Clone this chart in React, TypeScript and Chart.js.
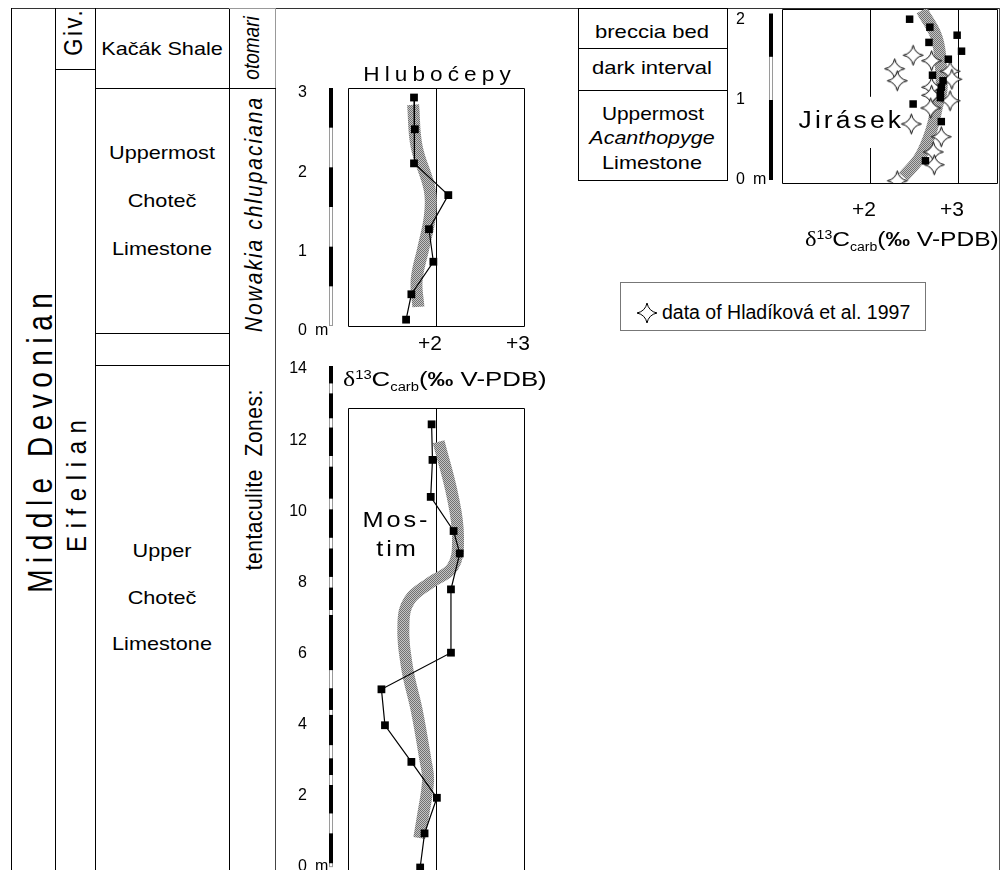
import React, { useEffect, useRef } from 'react';
import { Chart, registerables } from 'chart.js';
Chart.register(...registerables);

const FONT = '"Liberation Sans", Arial, Helvetica, sans-serif';
const SERIF = '"Liberation Serif", "Times New Roman", serif';

// ---------- Hlubočepy ----------
const hlubDepth = [2.88, 2.48, 2.05, 1.65, 1.22, 0.81, 0.40, 0.08];
const hlubD13C = [1.75, 1.76, 1.75, 2.14, 1.92, 1.97, 1.72, 1.66];
const hlubTrendDepth = [2.79, 2.26, 1.71, 1.38, 1.0, 0.58, 0.24];
const hlubTrendD13C = [1.74, 1.78, 1.93, 1.93, 1.86, 1.78, 1.80];
const hlubDepthTicks = [0, 1, 2, 3];
const hlubBarBlack = [[3, 2.5], [2, 1.5], [1, 0.5]];

// ---------- Mostim ----------
const mostDepth = [12.39, 11.39, 10.35, 9.39, 8.76, 7.75, 5.97, 4.94, 3.93, 2.9, 1.89, 0.89, -0.07];
const mostD13C = [1.95, 1.96, 1.94, 2.2, 2.27, 2.17, 2.17, 1.38, 1.42, 1.72, 2.01, 1.87, 1.82];
const mostTrendDepth = [11.9, 10.35, 9.22, 8.38, 7.93, 7.45, 6.8, 5.57, 4.36, 2.95, 2.39, 1.35, 0.76];
const mostTrendD13C = [2.03, 2.19, 2.25, 2.19, 1.93, 1.7, 1.63, 1.67, 1.78, 1.88, 1.91, 1.85, 1.81];
const mostDepthTicks = [0, 2, 4, 6, 8, 10, 12, 14];
const mostBarBlack = [[14.03, 13.54], [13.26, 12.56], [12.3, 11.5], [11.2, 10.3], [10.0, 9.2], [8.9, 8.1], [7.8, 7.17], [7.03, 5.48], [4.97, 4.36], [4.22, 3.37], [3.0, 2.53], [2.25, 1.45], [0.89, 0.05]];

// ---------- Jirásek ----------
const jirSquareD13C = [2.45, 2.68, 2.99, 2.67, 3.04, 2.89, 2.71, 2.83, 2.81, 2.8, 2.8, 2.49, 2.81, 2.63];
const jirSquareDepth = [2.01, 1.91, 1.81, 1.72, 1.61, 1.51, 1.31, 1.24, 1.16, 1.09, 1.03, 0.95, 0.73, 0.24];
const jirStarD13C = [2.49, 2.7, 2.28, 2.31, 2.91, 2.93, 2.7, 2.7, 2.91, 2.69, 2.47, 2.81, 2.72, 2.73, 2.31];
const jirStarDepth = [1.56, 1.49, 1.39, 1.24, 1.36, 1.26, 1.16, 1.06, 0.99, 0.9, 0.7, 0.54, 0.35, 0.19, -0.01];
const jirTrendD13C = [2.59, 2.76, 2.81, 2.81, 2.77, 2.7, 2.57, 2.38];
const jirTrendDepth = [2.12, 1.77, 1.35, 1.1, 0.96, 0.63, 0.29, 0.04];
const jirDepthTicks = [0, 1, 2];
const jirBarBlack = [[2.08, 1.54], [1.0, 0]];

const d13cTicks = [2, 3];

function pts(xs: number[], ys: number[]) {
  return xs.map((v, i) => ({ x: v, y: ys[i] }));
}

function makePattern(): CanvasPattern | string {
  const c = document.createElement('canvas');
  c.width = 2; c.height = 2;
  const g = c.getContext('2d');
  if (!g) return '#999';
  g.fillStyle = '#c4c4c4'; g.fillRect(0, 0, 2, 2);
  g.fillStyle = '#727272'; g.fillRect(0, 0, 1, 1); g.fillRect(1, 1, 1, 1);
  return g.createPattern(c, 'repeat') || '#999';
}

function makeStar(): HTMLCanvasElement {
  const c = document.createElement('canvas');
  c.width = 23; c.height = 23;
  const g = c.getContext('2d')!;
  const m = 11.5, R = 10, k = 1.7;
  g.beginPath();
  g.moveTo(m, m - R);
  g.quadraticCurveTo(m + k, m - k, m + R, m);
  g.quadraticCurveTo(m + k, m + k, m, m + R);
  g.quadraticCurveTo(m - k, m + k, m - R, m);
  g.quadraticCurveTo(m - k, m - k, m, m - R);
  g.closePath();
  g.fillStyle = '#fff'; g.fill();
  g.strokeStyle = '#000'; g.lineWidth = 1; g.stroke();
  return c;
}

const TICK_FONT = 16;

const decoPlugin = {
  id: 'deco',
  beforeDatasetsDraw(chart: any, _a: any, o: any) {
    const { ctx, chartArea: ca, scales } = chart;
    const x = scales.x, y = scales.y;
    ctx.save();
    const top = o.boxTop != null ? Math.round(y.getPixelForValue(o.boxTop)) + 0.5 : ca.top + 0.5;
    const L = ca.left + 0.5, R = ca.right + 0.5, B = o.openBottom ? ca.bottom + 2 : ca.bottom + 0.5;
    ctx.strokeStyle = '#000';
    ctx.lineWidth = 1;
    ctx.beginPath();
    ctx.moveTo(L, B); ctx.lineTo(L, top); ctx.lineTo(R, top); ctx.lineTo(R, B);
    if (!o.openBottom) ctx.lineTo(L, B);
    ctx.stroke();
    for (const v of o.vlines) {
      const px = Math.round(x.getPixelForValue(v)) + 0.5;
      ctx.beginPath(); ctx.moveTo(px, top); ctx.lineTo(px, B); ctx.stroke();
    }
    // thickness scale bar
    const bx = ca.left - o.barGap;
    const yT = y.getPixelForValue(o.barRange[0]);
    const yB = y.getPixelForValue(o.barRange[1]);
    ctx.fillStyle = '#fff';
    ctx.fillRect(bx - 2, yT, 4, yB - yT);
    ctx.strokeStyle = '#9a9a9a';
    ctx.strokeRect(bx - 1.5, yT + 0.5, 3, yB - yT - 1);
    ctx.fillStyle = '#000';
    for (const [a, b] of o.barBlack) {
      const ya = y.getPixelForValue(a), yb = y.getPixelForValue(b);
      ctx.fillRect(bx - 2, ya, 4, yb - ya);
    }
    if (o.label) {
      const lb = o.label;
      const x0 = x.getPixelForValue(lb.bg[0]), x1 = x.getPixelForValue(lb.bg[1]);
      const y0 = y.getPixelForValue(lb.bg[2]), y1 = y.getPixelForValue(lb.bg[3]);
      ctx.fillStyle = '#fff';
      ctx.fillRect(x0, y0, x1 - x0, y1 - y0);
      ctx.save();
      ctx.translate(x.getPixelForValue(lb.x), y.getPixelForValue(lb.y));
      ctx.scale(1.15, 1);
      ctx.font = `${lb.size}px ${FONT}`;
      (ctx as any).letterSpacing = `${lb.ls}px`;
      ctx.textAlign = 'center';
      ctx.textBaseline = 'middle';
      ctx.fillStyle = '#000';
      ctx.fillText(lb.text, lb.ls / 2, 0);
      ctx.restore();
    }
    ctx.restore();
  },
  afterDraw(chart: any, _a: any, o: any) {
    const { ctx, chartArea: ca, scales } = chart;
    const y = scales.y;
    ctx.save();
    ctx.font = `${TICK_FONT}px ${FONT}`;
    ctx.fillStyle = '#000';
    ctx.textAlign = 'left';
    ctx.textBaseline = 'middle';
    ctx.fillText('m', ca.left - o.yPad + 8, y.getPixelForValue(0) + o.yLabelOffset);
    ctx.restore();
  },
};

type Cfg = {
  left: number; top: number; width: number; height: number;
  pad: { left: number; top: number; right: number; bottom: number };
  xMin: number; xMax: number; yMin: number; yMax: number;
  yW: number; yPad: number; yLabelOffset: number; yTicks: number[];
  showX: boolean; xH: number; xPad: number;
  datasets: (pat: any, star: any) => any[];
  deco: any;
};

const CFGS: Cfg[] = [
  {
    left: 290, top: 60, width: 250, height: 300,
    pad: { left: 0, top: 28, right: 16, bottom: 0 },
    xMin: 1, xMax: 3, yMin: 0, yMax: 3,
    yW: 58, yPad: 41, yLabelOffset: 5, yTicks: hlubDepthTicks,
    showX: true, xH: 34, xPad: 6,
    datasets: (pat) => [
      { data: pts(hlubD13C, hlubDepth), showLine: true, borderColor: '#000', borderWidth: 1.2, pointStyle: 'rect', pointRadius: 5.5, pointBackgroundColor: '#000', pointBorderWidth: 0, tension: 0 },
      { data: pts(hlubTrendD13C, hlubTrendDepth), showLine: true, borderColor: pat, borderWidth: 12, pointRadius: 0, tension: 0.4, borderCapStyle: 'butt' },
    ],
    deco: { boxTop: null, openBottom: false, vlines: [2], barGap: 17, barRange: [3, 0], barBlack: hlubBarBlack },
  },
  {
    left: 290, top: 340, width: 250, height: 530,
    pad: { left: 0, top: 26, right: 16, bottom: 0 },
    xMin: 1, xMax: 3, yMin: -0.14, yMax: 14.03,
    yW: 58, yPad: 41, yLabelOffset: 2, yTicks: mostDepthTicks,
    showX: false, xH: 0, xPad: 0,
    datasets: (pat) => [
      { data: pts(mostD13C, mostDepth), showLine: true, borderColor: '#000', borderWidth: 1.2, pointStyle: 'rect', pointRadius: 5.5, pointBackgroundColor: '#000', pointBorderWidth: 0, tension: 0 },
      { data: pts(mostTrendD13C, mostTrendDepth), showLine: true, borderColor: pat, borderWidth: 12, pointRadius: 0, tension: 0.4, borderCapStyle: 'butt' },
    ],
    deco: { boxTop: 12.85, openBottom: true, vlines: [2], barGap: 17, barRange: [14.03, -0.06], barBlack: mostBarBlack },
  },
  {
    left: 720, top: 0, width: 287, height: 230,
    pad: { left: 0, top: 9, right: 10, bottom: 0 },
    xMin: 1, xMax: 3.443, yMin: -0.0375, yMax: 2.1375,
    yW: 62, yPad: 37, yLabelOffset: 0, yTicks: jirDepthTicks,
    showX: true, xH: 47, xPad: 15,
    datasets: (pat, star) => [
      { data: pts(jirSquareD13C, jirSquareDepth), showLine: false, pointStyle: 'rect', pointRadius: 5.3, pointBackgroundColor: '#000', pointBorderWidth: 0 },
      { data: pts(jirStarD13C, jirStarDepth), showLine: false, pointStyle: star, pointRadius: 10 },
      { data: pts(jirTrendD13C, jirTrendDepth), showLine: true, borderColor: pat, borderWidth: 12, pointRadius: 0, tension: 0.4, borderCapStyle: 'butt' },
    ],
    deco: {
      boxTop: null, openBottom: false, vlines: [2, 3], barGap: 11, barRange: [2.08, 0], barBlack: jirBarBlack,
      label: { text: 'Jirásek', x: 1.77, y: 0.73, size: 23, ls: 2.7, bg: [1.12, 2.37, 1.04, 0.4] },
    },
  },
];

function ChartBox({ cfg }: { cfg: Cfg }) {
  const ref = useRef<HTMLCanvasElement | null>(null);
  useEffect(() => {
    if (!ref.current) return;
    const pat = makePattern();
    const star = makeStar();
    const c = cfg;
    const chart = new Chart(ref.current, {
      type: 'scatter',
      data: { datasets: c.datasets(pat, star) },
      options: {
        animation: false,
        responsive: false,
        maintainAspectRatio: false,
        events: [],
        layout: { padding: c.pad, autoPadding: false },
        plugins: { legend: { display: false }, tooltip: { enabled: false }, deco: { ...c.deco, yPad: c.yPad, yLabelOffset: c.yLabelOffset } } as any,
        scales: {
          x: {
            type: 'linear', min: c.xMin, max: c.xMax, display: c.showX,
            grid: { display: false, drawTicks: false }, border: { display: false },
            ticks: { font: { family: FONT, size: 21 }, color: '#000', padding: c.xPad, labelOffset: -6, maxRotation: 0, autoSkip: false, callback: (v: any) => '+' + v },
            afterBuildTicks: (s: any) => { s.ticks = d13cTicks.map((v) => ({ value: v })); },
            afterFit: (s: any) => { s.height = c.xH; s.paddingLeft = 0; s.paddingRight = 0; },
          },
          y: {
            type: 'linear', min: c.yMin, max: c.yMax,
            grid: { display: false, drawTicks: false }, border: { display: false },
            ticks: { font: { family: FONT, size: TICK_FONT }, color: '#000', padding: c.yPad, labelOffset: c.yLabelOffset, autoSkip: false, callback: (v: any) => String(v) },
            afterBuildTicks: (s: any) => { s.ticks = c.yTicks.map((v) => ({ value: v })); },
            afterFit: (s: any) => { s.width = c.yW; s.paddingTop = 0; s.paddingBottom = 0; },
          },
        },
      } as any,
      plugins: [decoPlugin as any],
    });
    return () => chart.destroy();
  }, [cfg]);
  return (
    <canvas ref={ref} width={cfg.width} height={cfg.height}
      style={{ position: 'absolute', left: cfg.left, top: cfg.top, width: cfg.width, height: cfg.height }} />
  );
}

type TP = { x: number; y: number; size: number; children: React.ReactNode; italic?: boolean; rot?: boolean; ls?: number; sx?: number };
function Txt({ x, y, size, children, italic, rot, ls = 0, sx = 1 }: TP) {
  return (
    <div style={{
      position: 'absolute', left: x, top: y, whiteSpace: 'pre',
      fontFamily: FONT, fontSize: size, lineHeight: 1, fontStyle: italic ? 'italic' : 'normal',
      letterSpacing: ls, paddingLeft: ls, color: '#000',
      transform: `translate(-50%, -50%) scaleX(${sx})${rot ? ' rotate(-90deg)' : ''}`,
    }}>{children}</div>
  );
}

function Ln({ x, y, w, h, c = '#000' }: { x: number; y: number; w: number; h: number; c?: string }) {
  return <div style={{ position: 'absolute', left: x, top: y, width: w, height: h, background: c }} />;
}

function AxisTitle({ x, y, sx }: { x: number; y: number; sx: number }) {
  return (
    <div style={{
      position: 'absolute', left: x, top: y, whiteSpace: 'nowrap', fontFamily: FONT, fontSize: 21,
      lineHeight: 1, transformOrigin: 'left center', transform: `translate(0, -50%) scaleX(${sx})`, color: '#000',
    }}>
      <span style={{ fontFamily: SERIF }}>δ</span>
      <span style={{ fontSize: 12, position: 'relative', top: -7 }}>13</span>
      C
      <span style={{ fontSize: 12, position: 'relative', top: 5 }}>carb</span>
      (<b>‰</b> V-PDB)
    </div>
  );
}

function LegendStar() {
  return (
    <svg width={22} height={22} style={{ position: 'absolute', left: 636, top: 302 }}>
      <path d="M11 1 Q12.7 9.3 21 11 Q12.7 12.7 11 21 Q9.3 12.7 1 11 Q9.3 9.3 11 1 Z" fill="#fff" stroke="#000" strokeWidth={1} />
    </svg>
  );
}

export default function App() {
  return (
    <div style={{ position: 'absolute', left: 0, top: 0, width: 1007, height: 870, background: '#fff', overflow: 'hidden' }}>
      {/* frame */}
      <Ln x={11} y={8} w={988} h={1} c="#333" />
      <Ln x={999} y={8} w={1} h={862} c="#555" />
      {/* stratigraphic columns */}
      <Ln x={11} y={8} w={1} h={862} />
      <Ln x={55} y={8} w={1} h={862} />
      <Ln x={95} y={8} w={1} h={862} />
      <Ln x={229} y={8} w={1} h={862} />
      <Ln x={275} y={8} w={1} h={80} c="#999" />
      <Ln x={275} y={88} w={1} h={782} c="#444" />
      <Ln x={229} y={8} w={47} h={1} c="#999" />
      <Ln x={55} y={69} w={40} h={1} />
      <Ln x={95} y={88} w={181} h={1} />
      <Ln x={95} y={333} w={134} h={1} />
      <Ln x={95} y={365} w={134} h={1} />

      <Txt x={40.5} y={443} size={28} rot sx={1.22} ls={6.5}>Middle Devonian</Txt>
      <Txt x={77} y={486} size={24} rot sx={1.16} ls={7.6}>Eifelian</Txt>
      <Txt x={74} y={33} size={22} rot sx={1.15} ls={2.6}>Giv.</Txt>
      <Txt x={162} y={48} size={19} sx={1.14}>Kačák Shale</Txt>
      <Txt x={162} y={152} size={19} sx={1.14}>Uppermost</Txt>
      <Txt x={162} y={200} size={19} sx={1.14}>Choteč</Txt>
      <Txt x={162} y={248} size={19} sx={1.14}>Limestone</Txt>
      <Txt x={162} y={550} size={19} sx={1.14}>Upper</Txt>
      <Txt x={162} y={597} size={19} sx={1.14}>Choteč</Txt>
      <Txt x={162} y={643} size={19} sx={1.14}>Limestone</Txt>
      <Txt x={252} y={48} size={19} rot italic sx={1.15}>otomari</Txt>
      <Txt x={253} y={215} size={21} rot italic sx={1.15} ls={2}>Nowakia chlupaciana</Txt>
      <Txt x={253} y={480} size={21} rot sx={1.15} ls={0.5}>tentaculite  Zones:</Txt>

      {/* Jirásek log */}
      <div style={{ position: 'absolute', left: 578, top: 8, width: 148, height: 171, border: '1px solid #000' }} />
      <Ln x={578} y={48} w={150} h={1} />
      <Ln x={578} y={90} w={150} h={1} />
      <Txt x={652} y={31} size={19} sx={1.16}>breccia bed</Txt>
      <Txt x={652} y={67} size={19} sx={1.16}>dark interval</Txt>
      <Txt x={653} y={113} size={19} sx={1.1}>Uppermost</Txt>
      <Txt x={652} y={137} size={19} sx={1.13} italic>Acanthopyge</Txt>
      <Txt x={652} y={162} size={19} sx={1.14}>Limestone</Txt>

      {CFGS.map((c, i) => <ChartBox key={i} cfg={c} />)}

      <Txt x={437} y={73.5} size={20} sx={1.13} ls={4.5}>Hluboćepy</Txt>
      <AxisTitle x={343} y={379} sx={1.23} />
      <AxisTitle x={805} y={239} sx={1.17} />
      <Txt x={395} y={520} size={22} sx={1.15} ls={2.5}>Mos-</Txt>
      <Txt x={396} y={549} size={22} sx={1.15} ls={2.5}>tim</Txt>

      {/* legend */}
      <div style={{ position: 'absolute', left: 620, top: 282, width: 304, height: 47, border: '1px solid #777' }} />
      <LegendStar />
      <div style={{ position: 'absolute', left: 662, top: 313, transform: 'translate(0,-50%)', fontFamily: FONT, fontSize: 19.5, lineHeight: 1, whiteSpace: 'nowrap' }}>
        data of Hladíková et al. 1997
      </div>
    </div>
  );
}
